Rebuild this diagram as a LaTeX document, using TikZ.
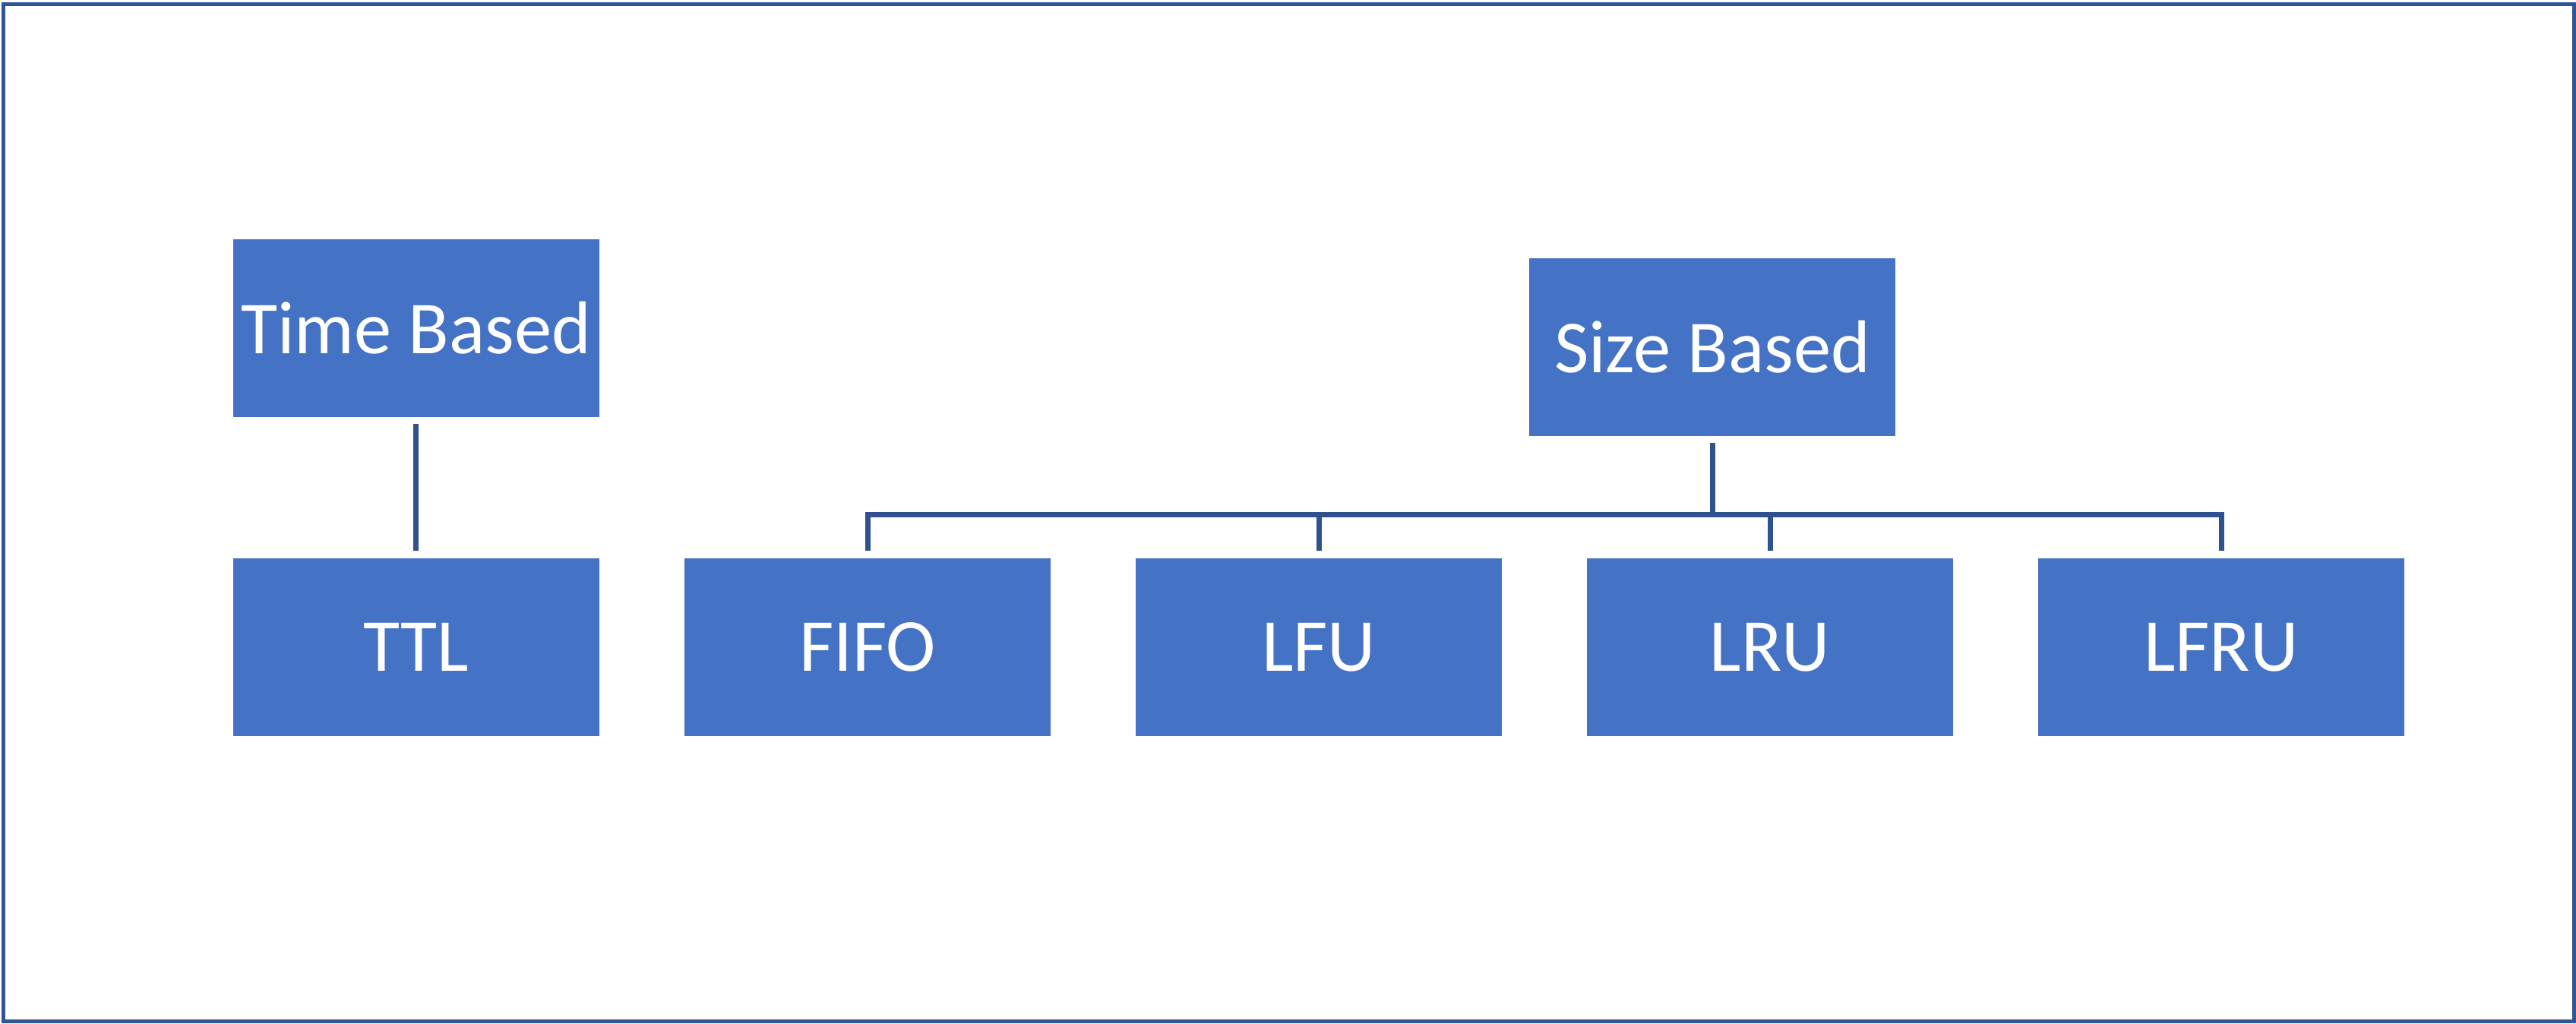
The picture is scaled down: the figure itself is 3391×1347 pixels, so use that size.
\documentclass[tikz,border=0pt]{standalone}
\usepackage{fontspec}
\setmainfont{Carlito}
\definecolor{boxblue}{HTML}{4472C4}
\definecolor{framecol}{HTML}{2F5597}
\definecolor{linecol}{HTML}{2F528F}
\begin{document}
\begin{tikzpicture}[x=1pt,y=-1pt,
  catbox/.style={rectangle,fill=boxblue,draw=none,minimum width=482pt,minimum height=234pt,inner sep=0pt,
    text=white,font=\fontsize{98.5}{118}\selectfont},
  conn/.style={draw=linecol,line width=7pt,line join=miter}]
\useasboundingbox (0,0) rectangle (3391,1347);
\draw[framecol,line width=5pt] (4.5,5.5) rectangle (3388.5,1344.5);
\node[catbox] (tb) at (547.5,432) {Time Based};
\node[catbox] (ttl) at (547.5,852) {TTL};
\node[catbox] (sb) at (2254,457) {Size Based};
\node[catbox] (fifo) at (1142,852) {FIFO};
\node[catbox] (lfu) at (1736,852) {LFU};
\node[catbox] (lru) at (2330,852) {LRU};
\node[catbox] (lfru) at (2924,852) {LFRU};
\coordinate (busy) at (0,677);
\draw[conn,shorten <=9pt,shorten >=10pt] (tb.south) -- (ttl.north);
\draw[conn,shorten <=9pt] (sb.south) -- (sb.south |- busy);
\draw[conn] ([yshift=10pt]fifo.north) -- (fifo.north |- busy) -- (lfru.north |- busy) -- ([yshift=10pt]lfru.north);
\draw[conn] (lfu.north |- busy) -- ([yshift=10pt]lfu.north);
\draw[conn] (lru.north |- busy) -- ([yshift=10pt]lru.north);
\end{tikzpicture}
\end{document}
